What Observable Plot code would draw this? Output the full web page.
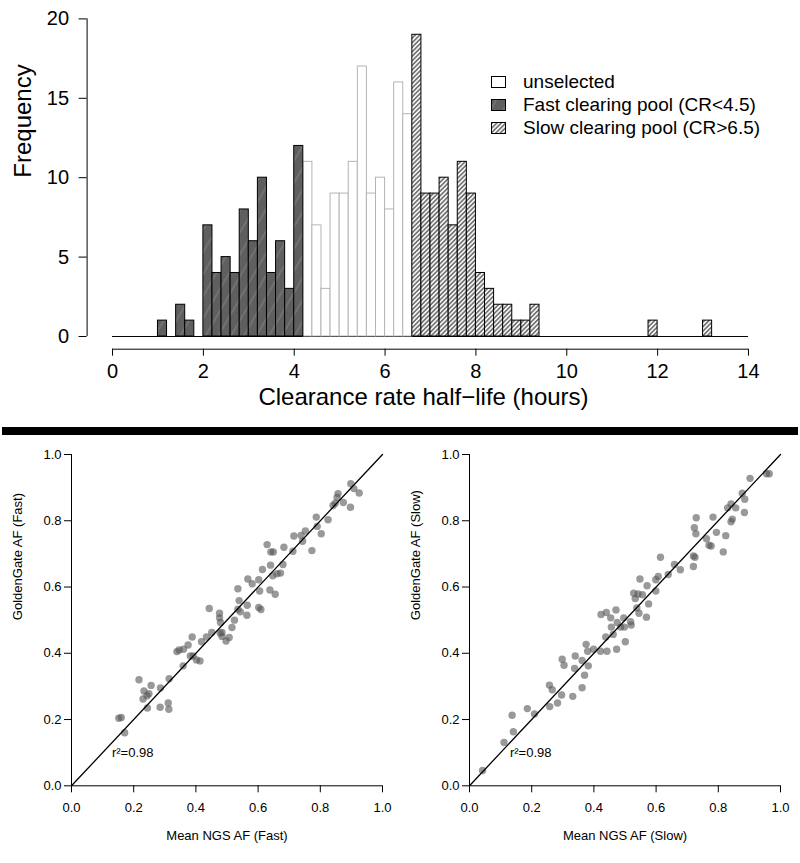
<!DOCTYPE html>
<html>
<head>
<meta charset="utf-8">
<script src="https://cdn.jsdelivr.net/npm/d3@7"></script>
<script src="https://cdn.jsdelivr.net/npm/@observablehq/plot@0.6"></script>
<style>
  body { margin: 0; background: #fff; font-family: "Liberation Sans", Arial, sans-serif; }
  #wrap { position: relative; width: 800px; height: 863px; overflow: hidden; background: #fff; }
  .abs { position: absolute; }
  #legend { position: absolute; left: 491px; top: 70.5px; font-size: 19px; color: #000; }
  #legend .row { display: flex; align-items: center; height: 23px; white-space: nowrap; }
  #legend svg { margin-right: 17px; flex: none; }
  #sep { position: absolute; left: 2px; top: 427px; width: 796px; height: 8px; background: #000; }
</style>
</head>
<body>
<svg width="0" height="0" style="position:absolute">
  <defs>
    <pattern id="fastPat" patternUnits="userSpaceOnUse" width="11" height="11" patternTransform="rotate(30)">
      <rect width="11" height="11" fill="#5f5f5f"></rect>
      <line x1="5" y1="0" x2="5" y2="11" stroke="#7d7d7d" stroke-width="1.2"></line>
    </pattern>
    <pattern id="slowPat" patternUnits="userSpaceOnUse" width="3.2" height="3.2" patternTransform="rotate(45)">
      <rect width="3.2" height="3.2" fill="#f4f4f4"></rect>
      <line x1="1.6" y1="0" x2="1.6" y2="3.2" stroke="#262626" stroke-width="1"></line>
    </pattern>
  </defs>
</svg>
<div id="wrap">
  <div id="hist" class="abs" style="left:0;top:0"></div>
  <div id="legend"></div>
  <div id="sep"></div>
  <div id="scFast" class="abs" style="left:0;top:434px"></div>
  <div id="scSlow" class="abs" style="left:400px;top:434px"></div>
</div>
<script>
// ---------- Histogram data (bin lower edges, bin width 0.2 h) ----------
const binWidth = 0.2;
const fastEdges = [1.0, 1.2, 1.4, 1.6, 1.8, 2.0, 2.2, 2.4, 2.6, 2.8, 3.0, 3.2, 3.4, 3.6, 3.8, 4.0];
const fastCounts = [1, 0, 2, 1, 0, 7, 4, 5, 4, 8, 6, 10, 4, 6, 3, 12];
const unselectedEdges = [4.2, 4.4, 4.6, 4.8, 5.0, 5.2, 5.4, 5.6, 5.8, 6.0, 6.2, 6.4];
const unselectedCounts = [11, 7, 3, 9, 9, 11, 17, 9, 10, 8, 16, 14];
const slowEdges = [6.6, 6.8, 7.0, 7.2, 7.4, 7.6, 7.8, 8.0, 8.2, 8.4, 8.6, 8.8, 9.0, 9.2, 11.8, 13.0];
const slowCounts = [19, 9, 9, 10, 7, 11, 9, 4, 3, 2, 2, 1, 1, 2, 1, 1];
const histXTicks = [0, 2, 4, 6, 8, 10, 12, 14];
const histYTicks = [0, 5, 10, 15, 20];
const legendLabels = ["unselected", "Fast clearing pool (CR<4.5)", "Slow clearing pool (CR>6.5)"];
const histXTitle = "Clearance rate half\u2212life (hours)";
const histYTitle = "Frequency";

// ---------- Scatter data ----------
const fastNGS = [0.152,0.160,0.171,0.217,0.233,0.230,0.243,0.249,0.244,0.256,0.286,0.285,0.311,0.313,0.314,0.339,0.346,0.360,0.359,0.375,0.388,0.382,0.391,0.402,0.413,0.418,0.434,0.451,0.443,0.476,0.476,0.479,0.484,0.478,0.484,0.497,0.507,0.516,0.524,0.535,0.539,0.535,0.543,0.565,0.564,0.567,0.581,0.602,0.605,0.602,0.609,0.614,0.629,0.640,0.638,0.641,0.649,0.647,0.655,0.661,0.672,0.680,0.683,0.712,0.715,0.738,0.743,0.752,0.773,0.787,0.790,0.803,0.825,0.841,0.848,0.857,0.854,0.874,0.897,0.898,0.908,0.925];
const fastGG  = [0.204,0.206,0.160,0.320,0.286,0.262,0.272,0.278,0.235,0.303,0.295,0.237,0.250,0.231,0.323,0.405,0.410,0.412,0.362,0.425,0.449,0.392,0.392,0.380,0.377,0.435,0.449,0.463,0.535,0.521,0.507,0.493,0.463,0.461,0.451,0.437,0.448,0.478,0.500,0.595,0.559,0.533,0.525,0.545,0.515,0.624,0.610,0.622,0.588,0.538,0.532,0.653,0.728,0.666,0.591,0.706,0.706,0.634,0.578,0.640,0.642,0.668,0.720,0.708,0.754,0.756,0.738,0.769,0.710,0.811,0.783,0.761,0.803,0.846,0.853,0.882,0.870,0.855,0.841,0.912,0.897,0.884];
const slowNGS = [0.042,0.111,0.137,0.141,0.186,0.209,0.257,0.258,0.266,0.283,0.296,0.298,0.304,0.332,0.340,0.338,0.362,0.362,0.370,0.375,0.380,0.382,0.399,0.421,0.423,0.440,0.442,0.438,0.454,0.456,0.462,0.471,0.473,0.475,0.486,0.496,0.498,0.501,0.518,0.520,0.528,0.533,0.542,0.538,0.545,0.548,0.556,0.569,0.571,0.576,0.599,0.599,0.607,0.614,0.639,0.659,0.678,0.720,0.720,0.723,0.728,0.729,0.725,0.762,0.770,0.777,0.783,0.794,0.816,0.824,0.830,0.841,0.841,0.845,0.856,0.877,0.884,0.885,0.902,0.955,0.964];
const slowGG  = [0.046,0.131,0.213,0.163,0.233,0.217,0.304,0.239,0.290,0.250,0.274,0.382,0.364,0.270,0.392,0.354,0.378,0.296,0.334,0.427,0.406,0.362,0.412,0.406,0.517,0.523,0.406,0.449,0.507,0.479,0.457,0.531,0.412,0.493,0.479,0.507,0.479,0.435,0.495,0.485,0.581,0.565,0.579,0.537,0.521,0.624,0.577,0.509,0.604,0.549,0.588,0.622,0.632,0.690,0.638,0.668,0.652,0.662,0.694,0.779,0.761,0.809,0.690,0.746,0.726,0.724,0.811,0.765,0.706,0.755,0.839,0.851,0.797,0.805,0.839,0.883,0.825,0.865,0.928,0.942,0.942];
const afTicks = [0, 0.2, 0.4, 0.6, 0.8, 1.0];
const identityLine = [0, 1];
const r2Label = "r\u00b2=0.98";
const r2At = {x: 0.13, y: 0.10};

const FONT = "Liberation Sans, Arial, Helvetica, sans-serif";

// ---------- Histogram ----------
const toBins = (edges, counts) => edges.map((e, i) => ({x0: e, x1: +(e + binWidth).toFixed(2), count: counts[i]})).filter(d => d.count > 0);
const fastBins = toBins(fastEdges, fastCounts);
const unselBins = toBins(unselectedEdges, unselectedCounts);
const slowBins = toBins(slowEdges, slowCounts);

const xMin = histXTicks[0], xMax = histXTicks[histXTicks.length - 1];
const yMin = histYTicks[0], yMax = histYTicks[histYTicks.length - 1];
const xPad = (xMax - xMin) * 0.04, yPad = (yMax - yMin) * 0.04;
const xDomain = [xMin - xPad, xMax + xPad];
const yDomain = [yMin - yPad, yMax + yPad];

const hist = Plot.plot({
  width: 800, height: 427,
  marginLeft: 86.6, marginRight: 26.6, marginTop: 5.7, marginBottom: 78.3,
  x: {domain: xDomain},
  y: {domain: yDomain},
  style: {fontFamily: FONT, fontSize: "20px", color: "#000", background: "transparent"},
  marks: [
    Plot.ruleY([0], {x1: xMin, x2: xMax, stroke: "#000", strokeWidth: 1}),
    Plot.rectY(unselBins, {x1: "x0", x2: "x1", y: "count", fill: "#fff", stroke: "#b4b4b4", strokeWidth: 1}),
    Plot.rectY(fastBins, {x1: "x0", x2: "x1", y: "count", fill: "url(#fastPat)", stroke: "#000", strokeWidth: 1}),
    Plot.rectY(slowBins, {x1: "x0", x2: "x1", y: "count", fill: "url(#slowPat)", stroke: "#000", strokeWidth: 1}),
    Plot.ruleX([xDomain[0]], {y1: yMin, y2: yMax, stroke: "#000"}),
    Plot.ruleY([yDomain[0]], {x1: xMin, x2: xMax, stroke: "#000"}),
    Plot.axisX({ticks: histXTicks, tickSize: 7, tickPadding: 8, label: null, fontSize: 20}),
    Plot.axisY({ticks: histYTicks, tickSize: 8, tickPadding: 10, label: null, fontSize: 20}),
    Plot.text([histYTitle], {frameAnchor: "left", rotate: -90, dx: -63.6, fontSize: 24}),
    Plot.text([histXTitle], {frameAnchor: "bottom", dy: 56, dx: -7, fontSize: 24})
  ]
});
document.getElementById("hist").appendChild(hist);

// ---------- Legend ----------
const legendFills = [
  {fill: "#fff", stroke: "#000"},
  {fill: "url(#fastPat)", stroke: "#000"},
  {fill: "url(#slowPat)", stroke: "#000"}
];
const legend = d3.select("#legend");
legendLabels.forEach((lab, i) => {
  const row = legend.append("div").attr("class", "row");
  const s = row.append("svg").attr("width", 15).attr("height", 12);
  s.append("rect").attr("x", 0.5).attr("y", 0.5).attr("width", 14).attr("height", 11)
    .attr("fill", legendFills[i].fill).attr("stroke", legendFills[i].stroke);
  row.append("span").text(lab);
});

// ---------- Scatter plots ----------
function scatter(ngs, gg, xTitle, yTitle, mLeft, mRight) {
  const pts = ngs.map((v, i) => ({ngs: v, gg: gg[i]}));
  return Plot.plot({
    width: 400, height: 429,
    marginLeft: mLeft, marginRight: mRight, marginTop: 20, marginBottom: 77.7,
    x: {domain: [afTicks[0], afTicks[afTicks.length - 1]]},
    y: {domain: [afTicks[0], afTicks[afTicks.length - 1]]},
    style: {fontFamily: FONT, fontSize: "13px", color: "#000", background: "transparent"},
    marks: [
      Plot.dot(pts, {x: "ngs", y: "gg", r: 3.7, fill: "#555", fillOpacity: 0.6, stroke: "none"}),
      Plot.line(identityLine, {x: d => d, y: d => d, stroke: "#000", strokeWidth: 1.3}),
      Plot.ruleX([afTicks[0]], {y1: afTicks[0], y2: afTicks[afTicks.length - 1], stroke: "#000"}),
      Plot.ruleY([afTicks[0]], {x1: afTicks[0], x2: afTicks[afTicks.length - 1], stroke: "#000"}),
      Plot.axisX({ticks: afTicks, tickFormat: d3.format(".1f"), tickSize: 7, tickPadding: 10, label: null, fontSize: 13}),
      Plot.axisY({ticks: afTicks, tickFormat: d3.format(".1f"), tickSize: 7, tickPadding: 3, label: null, fontSize: 13}),
      Plot.text([{x: r2At.x, y: r2At.y, t: r2Label}], {x: "x", y: "y", text: "t", textAnchor: "start", fontSize: 13}),
      Plot.text([yTitle], {frameAnchor: "left", rotate: -90, dx: -54, fontSize: 13}),
      Plot.text([xTitle], {frameAnchor: "bottom", dy: 53.7, fontSize: 13})
    ]
  });
}
document.getElementById("scFast").appendChild(scatter(fastNGS, fastGG, "Mean NGS AF (Fast)", "GoldenGate AF (Fast)", 71, 18));
document.getElementById("scSlow").appendChild(scatter(slowNGS, slowGG, "Mean NGS AF (Slow)", "GoldenGate AF (Slow)", 69, 20));
</script>
</body>
</html>
